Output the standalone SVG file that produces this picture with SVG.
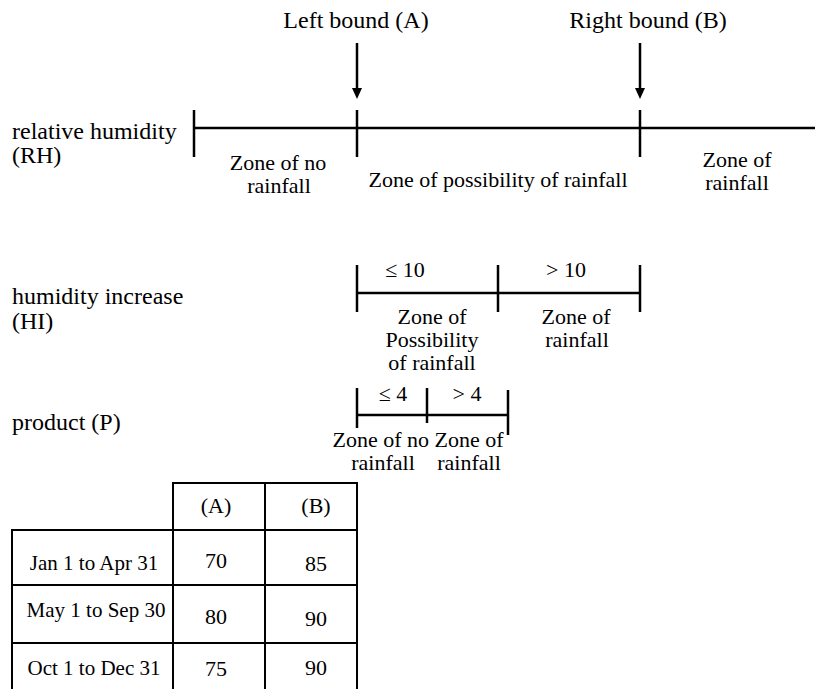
<svg xmlns="http://www.w3.org/2000/svg" width="815" height="689" viewBox="0 0 815 689">
<style>
text{font-family:"Liberation Serif","Times New Roman",serif;fill:#000}
.t{font-size:24px}
.z{font-size:22px;text-anchor:middle}
.c{font-size:22px;text-anchor:middle}
.r{font-size:21px;text-anchor:middle}
.ln{stroke:#000;stroke-width:2.5;fill:none}
.tb{stroke:#000;stroke-width:2;fill:none}
.ah{fill:#000}
</style>
<rect width="815" height="689" fill="#fff"/>

<g id="bounds">
<text class="t" x="356" y="28" text-anchor="middle">Left bound (A)</text>
<text class="t" x="648" y="28" text-anchor="middle">Right bound (B)</text>
</g>

<g id="connectors">
<line class="ln" x1="357" y1="43" x2="357" y2="88"/>
<path class="ah" d="M352,88 L362,88 L357,99 Z"/>
<line class="ln" x1="640" y1="43" x2="640" y2="88"/>
<path class="ah" d="M635,88 L645,88 L640,99 Z"/>
</g>

<g id="rh-axis">
<text class="t" x="12" y="139">relative humidity</text>
<text class="t" x="12" y="163">(RH)</text>
<line class="ln" x1="194" y1="128" x2="815" y2="128"/>
<line class="ln" x1="194" y1="110" x2="194" y2="157"/>
<line class="ln" x1="357" y1="110" x2="357" y2="157"/>
<line class="ln" x1="640" y1="110" x2="640" y2="157"/>
<text class="z" x="278" y="170">Zone of no</text>
<text class="z" x="279" y="193">rainfall</text>
<text class="z" x="498" y="187">Zone of possibility of rainfall</text>
<text class="z" x="737" y="167">Zone of</text>
<text class="z" x="737" y="190">rainfall</text>
</g>

<g id="hi-axis">
<text class="t" x="12" y="304">humidity increase</text>
<text class="t" x="12" y="329">(HI)</text>
<line class="ln" x1="357" y1="293" x2="640" y2="293"/>
<line class="ln" x1="357" y1="265" x2="357" y2="312"/>
<line class="ln" x1="498" y1="265" x2="498" y2="312"/>
<line class="ln" x1="640" y1="265" x2="640" y2="312"/>
<text class="z" x="405" y="277">≤ 10</text>
<text class="z" x="566" y="277">&gt; 10</text>
<text class="z" x="432" y="324">Zone of</text>
<text class="z" x="432" y="347">Possibility</text>
<text class="z" x="432" y="370">of rainfall</text>
<text class="z" x="576" y="324">Zone of</text>
<text class="z" x="577" y="347">rainfall</text>
</g>

<g id="p-axis">
<text class="t" x="12" y="430">product (P)</text>
<line class="ln" x1="357" y1="415" x2="508" y2="415"/>
<line class="ln" x1="357" y1="388" x2="357" y2="428"/>
<line class="ln" x1="427" y1="388" x2="427" y2="423"/>
<line class="ln" x1="508" y1="390" x2="508" y2="435"/>
<text class="z" x="393" y="401">≤ 4</text>
<text class="z" x="467" y="401">&gt; 4</text>
<text class="z" x="418" y="447">Zone of no Zone of</text>
<text class="z" x="383" y="470">rainfall</text>
<text class="z" x="469" y="470">rainfall</text>
</g>

<g id="table">
<path class="tb" d="M173,689 V483 H357 V689 M265,483 V689 M12,689 V530 H357 M12,585 H357 M12,643 H357"/>
<text class="c" x="216" y="513">(A)</text>
<text class="c" x="316" y="513">(B)</text>
<text class="r" x="94" y="570">Jan 1 to Apr 31</text>
<text class="c" x="216" y="568">70</text>
<text class="c" x="316" y="571">85</text>
<text class="r" x="96" y="617">May 1 to Sep 30</text>
<text class="c" x="216" y="624">80</text>
<text class="c" x="316" y="626">90</text>
<text class="r" x="94" y="675">Oct 1 to Dec 31</text>
<text class="c" x="216" y="676">75</text>
<text class="c" x="316" y="675">90</text>
</g>
</svg>
